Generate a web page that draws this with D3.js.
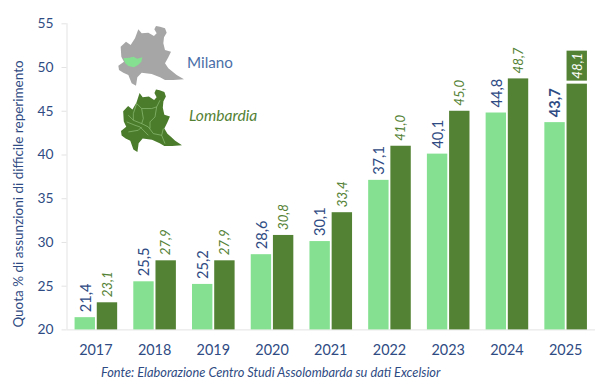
<!DOCTYPE html>
<html><head><meta charset="utf-8">
<script src="https://cdn.jsdelivr.net/npm/d3@7"></script>
<style>html,body{margin:0;background:#fff}svg{display:block}text{font-family:Lato,sans-serif}</style>
</head><body><svg id="c" width="600" height="391"></svg>
<script>
const years=["2017","2018","2019","2020","2021","2022","2023","2024","2025"];
const milano=[21.4,25.5,25.2,28.6,30.1,37.1,40.1,44.8,43.7];
const lombardia=[23.1,27.9,27.9,30.8,33.4,41.0,45.0,48.7,48.1];
const yTicks=[20,25,30,35,40,45,50,55];
const yTitle="Quota % di assunzioni di difficile reperimento";
const source="Fonte: Elaborazione Centro Studi Assolombarda su dati Excelsior";
const regionOutline=[[468,78],[480,80],[495,85],[500,98],[492,112],[490,130],[495,150],[513,155],[505,172],[495,190],[505,205],[518,215],[530,225],[552,238],[520,240],[495,240],[480,232],[455,222],[425,218],[412,232],[408,257],[395,250],[385,225],[370,218],[357,210],[355,197],[372,185],[364,170],[362,140],[378,125],[392,135],[405,115],[415,88],[425,100],[445,98],[462,108],[470,100],[463,88]];
const milanoArea=[[370,175],[388,173],[400,170],[412,176],[427,172],[424,185],[414,195],[402,202],[385,198],[376,190]];
const provinceLines=[[[410,310],[425,325],[455,325],[470,320],[480,300]],[[425,325],[430,355],[425,370],[445,380],[460,400],[485,405],[495,430]],[[470,320],[465,350],[450,365],[450,385]],[[385,345],[400,360],[425,370]],[[380,365],[405,375],[420,380],[445,405]],[[410,310],[400,340],[400,360]],[[490,385],[485,405]],[[385,395],[415,390],[425,380]]];

const m={l:66.5,r:595,t:23.3,b:329.4};
const BLUE="#2F4B83",DARK="#548235",LIGHT="#85E191",GRID="#E3E3E3";
const svg=d3.select("#c");
const x=d3.scaleBand().domain(years).range([m.l,m.r]);
const y=d3.scaleLinear().domain([20,55]).range([m.b,m.t]);
const barW=20.4,gap=1.8;
const xL=d=>x(d)+x.bandwidth()/2-gap/2-barW;
const xD=d=>x(d)+x.bandwidth()/2+gap/2;

// axes
const ay=svg.append("g").attr("transform",`translate(${m.l},0)`).call(d3.axisLeft(y).tickValues(yTicks).tickSize(5).tickPadding(8));
ay.selectAll("line,path").attr("stroke",GRID);
ay.select("path").attr("d",`M0.5,${m.t}V${m.b}`);
ay.selectAll("text").attr("fill",BLUE).attr("font-size",13.8).style("font-family","Lato");
const ax=svg.append("g").attr("transform",`translate(0,${m.b})`).call(d3.axisBottom(x).tickSize(0).tickPadding(15));
ax.select("path").attr("stroke",GRID).attr("d",`M${m.l},0.5H${m.r}`);
ax.selectAll("text").attr("fill",BLUE).attr("font-size",14.4).style("font-family","Lato");

// bars
svg.selectAll(".m").data(years).join("rect").attr("x",xL).attr("width",barW)
  .attr("y",(d,i)=>y(milano[i])).attr("height",(d,i)=>m.b-y(milano[i])).attr("fill",LIGHT);
svg.selectAll(".l").data(years).join("rect").attr("x",xD).attr("width",barW)
  .attr("y",(d,i)=>y(lombardia[i])).attr("height",(d,i)=>m.b-y(lombardia[i])).attr("fill",DARK);

// labels
const fmt=v=>v.toFixed(1).replace(".",",");
svg.selectAll(".ml").data(years).join("text")
  .attr("transform",(d,i)=>`translate(${xL(d)+barW/2+0.5},${y(milano[i])-5}) rotate(-90)`)
  .attr("dy","0.36em").attr("font-size",14.6).attr("fill",BLUE)
  .attr("font-weight",d=>d==="2025"?700:400).text((d,i)=>fmt(milano[i]));
const last=years[years.length-1];
svg.append("rect").attr("x",xD(last)).attr("width",barW)
  .attr("y",y(lombardia[8])-33).attr("height",30).attr("fill",DARK);
svg.selectAll(".ll").data(years).join("text")
  .attr("transform",(d,i)=>`translate(${xD(d)+barW/2},${y(lombardia[i])-5}) rotate(-90)`)
  .attr("dy","0.36em").attr("font-size",13.2).attr("font-style","italic")
  .attr("fill",d=>d===last?"#fff":DARK).text((d,i)=>fmt(lombardia[i]));

// titles
svg.append("text").attr("transform",`translate(18,194) rotate(-90)`).attr("text-anchor","middle")
  .attr("dy","0.36em").attr("font-size",13.5).attr("fill",BLUE).text(yTitle);
svg.append("text").attr("x",101).attr("y",376.5).attr("font-size",12.8).attr("font-style","italic")
  .attr("fill",BLUE).text(source);

// maps (outline traced in a 3x crop of the picture)
const line=d3.line();
const grayX=d3.scaleLinear().domain([0,3]).range([0,1]);
const grayY=d3.scaleLinear().domain([0,3]).range([0,1]);
const greenX=d3.scaleLinear().domain([355,552]).range([121,182]);
const greenY=d3.scaleLinear().domain([78,257]).range([89.5,152]);
const lineY=d3.scaleLinear().domain([268,455]).range([89.5,152]);
const gray=p=>p.map(q=>[grayX(q[0]),grayY(q[1])]);
const green=p=>p.map(q=>[greenX(q[0]),greenY(q[1])]);
const inner=p=>p.map(q=>[d3.scaleLinear().domain([363,546]).range([121,182])(q[0]),lineY(q[1])]);
svg.append("path").attr("d",line(gray(regionOutline))+"Z").attr("fill","#A6A6A6");
svg.append("path").attr("d",line(gray(milanoArea))+"Z").attr("fill",LIGHT);
svg.append("path").attr("d",line(green(regionOutline))+"Z").attr("fill","#4A7C2C");
provinceLines.forEach(l=>svg.append("path").attr("d",line(inner(l))).attr("fill","none").attr("stroke","#9CC983").attr("stroke-width",0.6));
svg.append("text").attr("x",187).attr("y",67.5).attr("font-size",15.2).attr("fill","#4A6FA8").text("Milano");
svg.append("text").attr("x",189).attr("y",121).attr("font-size",15.6).attr("font-style","italic").attr("fill",DARK).text("Lombardia");
</script></body></html>
